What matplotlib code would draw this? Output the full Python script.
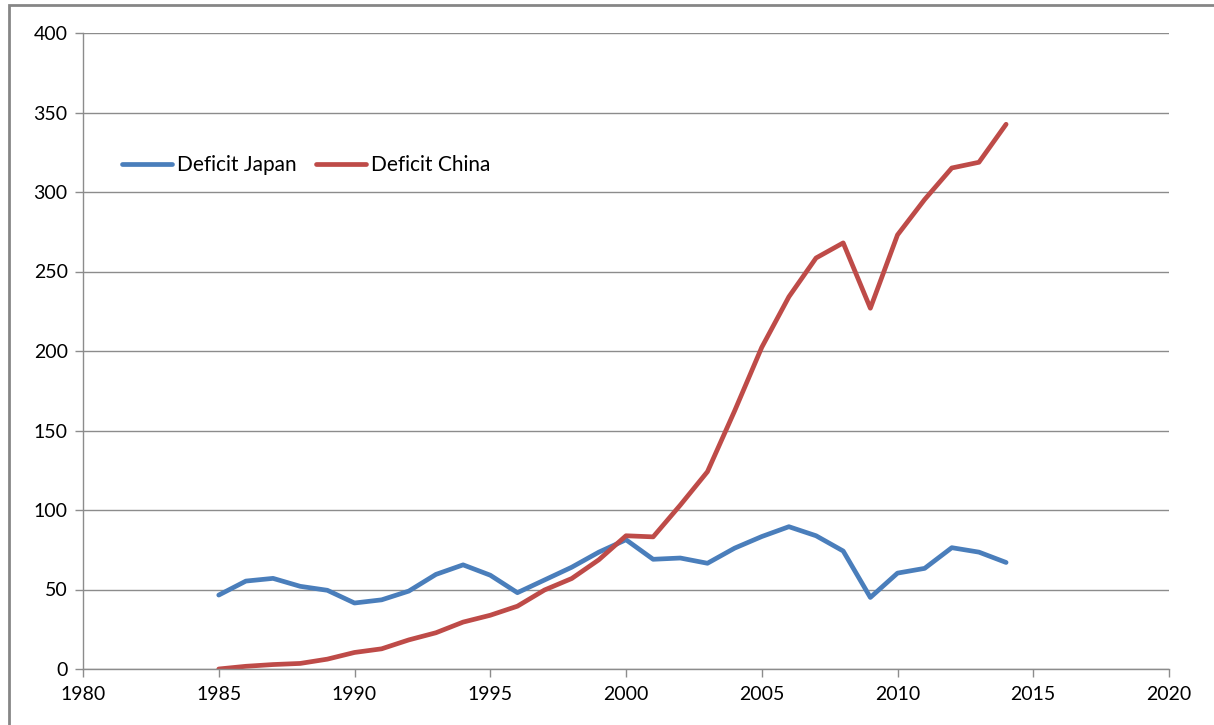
import matplotlib
matplotlib.use("Agg")
import matplotlib.pyplot as plt
from matplotlib.patches import Rectangle

years = list(range(1985, 2015))
deficit_japan = [46.5, 55.3, 57.0, 52.0, 49.5, 41.5, 43.5, 49.0, 59.5, 65.5, 59.0, 48.0,
                 56.0, 64.0, 73.5, 81.3, 69.0, 69.8, 66.5, 76.0, 83.3, 89.5, 83.8, 74.2,
                 45.0, 60.3, 63.3, 76.3, 73.5, 67.0]
deficit_china = [0.0, 1.7, 2.8, 3.5, 6.2, 10.4, 12.7, 18.3, 22.8, 29.5, 33.8, 39.5,
                 49.7, 56.9, 68.7, 83.8, 83.1, 103.1, 124.1, 162.3, 202.3, 234.1, 258.5, 268.0,
                 226.9, 273.0, 295.3, 315.1, 318.7, 342.6]
x_ticks = [1980, 1985, 1990, 1995, 2000, 2005, 2010, 2015, 2020]
y_ticks = [0, 50, 100, 150, 200, 250, 300, 350, 400]

plt.rcParams['font.family'] = ['Lato', 'DejaVu Sans']

W, H = 1214, 725
fig = plt.figure(figsize=(W / 100, H / 100), dpi=100)
ax = fig.add_axes([83 / W, 1 - 669 / H, (1169 - 83) / W, (669 - 33) / H])

grid_c = '#8c8c8c'
ax.plot(years, deficit_japan, color='#4A7EBB', lw=3.4, label='Deficit Japan',
        solid_capstyle='round', solid_joinstyle='round')
ax.plot(years, deficit_china, color='#BE4B48', lw=3.4, label='Deficit China',
        solid_capstyle='round', solid_joinstyle='round')

ax.set_xlim(1980, 2020)
ax.set_ylim(0, 400)
ax.set_xticks(x_ticks)
ax.set_yticks(y_ticks)
ax.yaxis.grid(True, color=grid_c, lw=1.0)
ax.set_axisbelow(True)
for s in ['top', 'right']:
    ax.spines[s].set_visible(False)
for s in ['left', 'bottom']:
    ax.spines[s].set_color(grid_c)
    ax.spines[s].set_linewidth(1.0)
ax.tick_params(axis='both', colors=grid_c, labelcolor='black', labelsize=14,
               length=6, width=1.0, direction='out')
ax.tick_params(axis='x', pad=6)
ax.tick_params(axis='y', pad=5)

leg = ax.legend(loc='center left', bbox_to_anchor=((122 - 83) / (1169 - 83), (669 - 165) / (669 - 33)),
                ncol=2, frameon=False, fontsize=15, handlelength=2.4, handletextpad=0.25,
                columnspacing=0.9, borderaxespad=0, borderpad=0)

fig.patches.append(Rectangle((9 / W, -0.5), 2, 0.5 + (1 - 5 / H), transform=fig.transFigure,
                             fill=False, edgecolor='#868686', lw=2.0))

fig.savefig('out.png', dpi=100)
